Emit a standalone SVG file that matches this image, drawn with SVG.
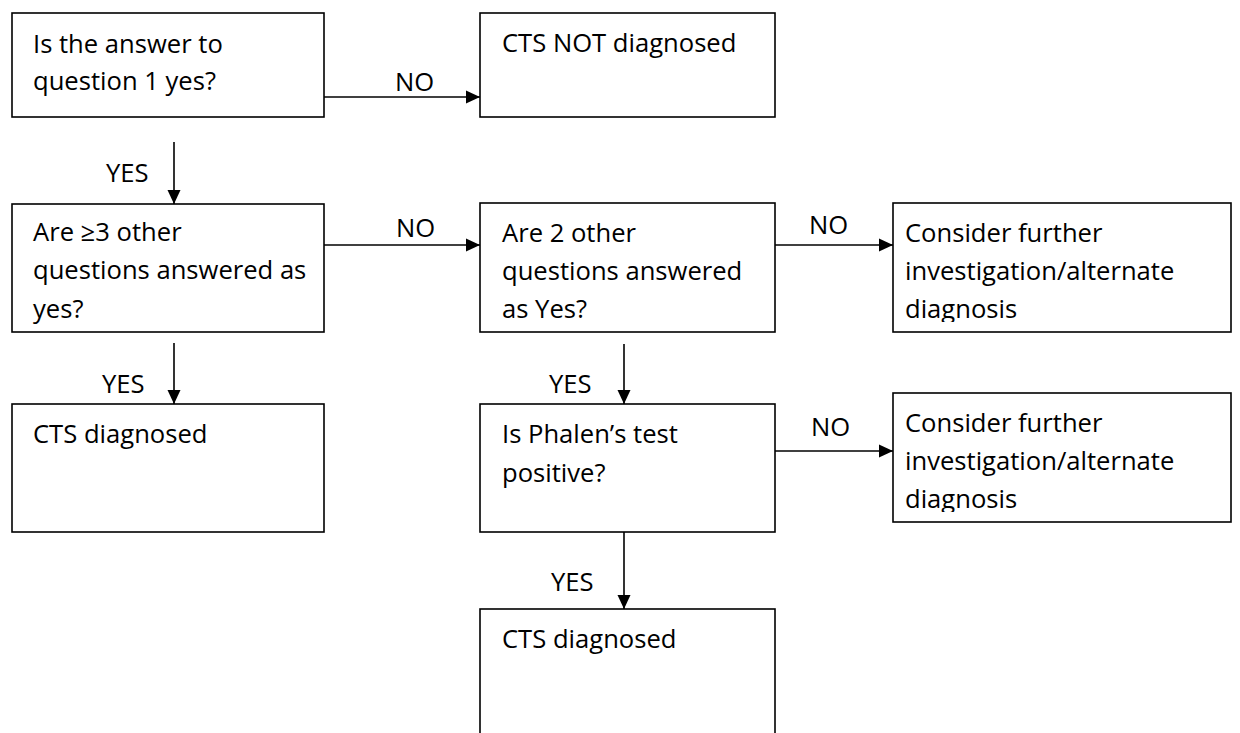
<svg xmlns="http://www.w3.org/2000/svg" width="1240" height="733" viewBox="0 0 1240 733">
<style>
.box{fill:#fff;stroke:#000;stroke-width:1.6}
.t{font-family:"Open Sans",Lato,"Liberation Sans",sans-serif;font-size:25.6px;fill:#000}
.c{stroke:#000;stroke-width:1.6;fill:none;marker-end:url(#ah)}
</style>
<defs>
<marker id="ah" markerUnits="userSpaceOnUse" markerWidth="15" markerHeight="14" refX="14" refY="7" orient="auto">
<path d="M0,0.5 L14,7 L0,13.5 Z" fill="#000"/>
</marker>
<clipPath id="clip3"><rect x="12" y="204" width="312" height="120"/></clipPath>
<clipPath id="clip5"><rect x="893" y="203" width="338" height="119"/></clipPath>
<clipPath id="clip8"><rect x="893" y="393" width="338" height="119"/></clipPath>
</defs>
<rect width="1240" height="733" fill="#fff"/>
<g id="connectors">
<line class="c" x1="324" y1="97" x2="480" y2="97"/>
<line class="c" x1="174" y1="142" x2="174" y2="204"/>
<line class="c" x1="324" y1="245" x2="480" y2="245"/>
<line class="c" x1="775" y1="245" x2="893" y2="245"/>
<line class="c" x1="174" y1="343" x2="174" y2="404"/>
<line class="c" x1="624" y1="344" x2="624" y2="404"/>
<line class="c" x1="775" y1="451" x2="893" y2="451"/>
<line class="c" x1="624" y1="532" x2="624" y2="609"/>
<text class="t" x="395" y="91">NO</text>
<text class="t" x="106" y="182">YES</text>
<text class="t" x="396" y="237">NO</text>
<text class="t" x="809" y="234">NO</text>
<text class="t" x="102" y="393">YES</text>
<text class="t" x="549" y="393">YES</text>
<text class="t" x="811" y="436">NO</text>
<text class="t" x="551" y="591">YES</text>
</g>
<g id="n1">
<rect class="box" x="12" y="13" width="312" height="104"/>
<text class="t" x="33" y="53">Is the answer to</text>
<text class="t" x="33" y="90">question 1 yes?</text>
</g>
<g id="n2">
<rect class="box" x="480" y="13" width="295" height="104"/>
<text class="t" x="502" y="52">CTS NOT diagnosed</text>
</g>
<g id="n3">
<rect class="box" x="12" y="204" width="312" height="128"/>
<g clip-path="url(#clip3)">
<text class="t" x="33" y="241">Are ≥3 other</text>
<text class="t" x="33" y="279">questions answered as</text>
<text class="t" x="33" y="318">yes?</text>
</g>
</g>
<g id="n4">
<rect class="box" x="480" y="203" width="295" height="129"/>
<text class="t" x="502" y="242">Are 2 other</text>
<text class="t" x="502" y="280">questions answered</text>
<text class="t" x="502" y="318">as Yes?</text>
</g>
<g id="n5">
<rect class="box" x="893" y="203" width="338" height="129"/>
<g clip-path="url(#clip5)">
<text class="t" x="905" y="242">Consider further</text>
<text class="t" x="905" y="280">investigation/alternate</text>
<text class="t" x="905" y="318">diagnosis</text>
</g>
</g>
<g id="n6">
<rect class="box" x="12" y="404" width="312" height="128"/>
<text class="t" x="33" y="443">CTS diagnosed</text>
</g>
<g id="n7">
<rect class="box" x="480" y="404" width="295" height="128"/>
<text class="t" x="502" y="443">Is Phalen’s test</text>
<text class="t" x="502" y="482">positive?</text>
</g>
<g id="n8">
<rect class="box" x="893" y="393" width="338" height="129"/>
<g clip-path="url(#clip8)">
<text class="t" x="905" y="432">Consider further</text>
<text class="t" x="905" y="470">investigation/alternate</text>
<text class="t" x="905" y="508">diagnosis</text>
</g>
</g>
<g id="n9">
<rect class="box" x="480" y="609" width="295" height="140"/>
<text class="t" x="502" y="648">CTS diagnosed</text>
</g>
</svg>
